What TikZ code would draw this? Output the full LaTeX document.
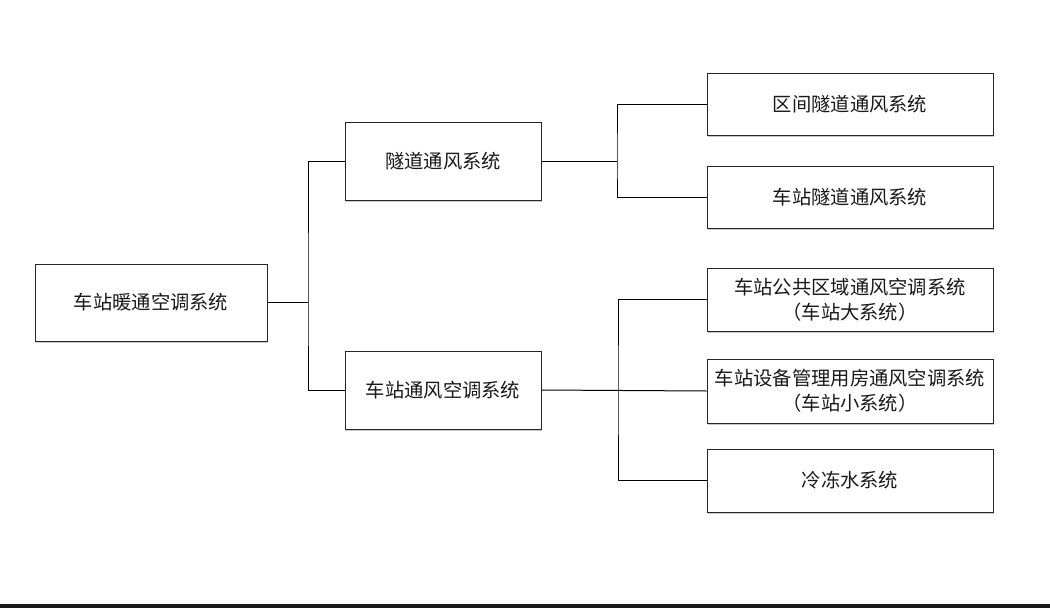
\documentclass[tikz,border=0pt]{standalone}
\usepackage{fontspec}
\setmainfont{Noto Sans CJK SC}
\usetikzlibrary{shadows}
\tikzset{
  box/.style={draw=black!85, line width=1pt, fill=white, rectangle, inner sep=0pt,
    align=center, text=black!90, font=\fontsize{19.3}{25}\selectfont,
    drop shadow={shadow xshift=1.3pt, shadow yshift=-1.8pt, opacity=0.35, fill=black!60}},
  conn/.style={draw=black, line width=1pt}
}
\begin{document}
\begin{tikzpicture}[x=1pt,y=-1pt]
\useasboundingbox (0,0) rectangle (1050,608);
\fill[white] (0,0) rectangle (1050,608);
\fill[black!90] (0,604) rectangle (1050,608);

\node[box, minimum width=232pt, minimum height=77pt] (root) at (151,302.5) {车站暖通空调系统};
\node[box, minimum width=196pt, minimum height=78pt] (mid1) at (443,161) {隧道通风系统};
\node[box, minimum width=196pt, minimum height=78pt] (mid2) at (443,390) {车站通风空调系统};
\node[box, minimum width=286pt, minimum height=62pt] (r1) at (850,104) {区间隧道通风系统};
\node[box, minimum width=286pt, minimum height=62pt] (r2) at (850,197) {车站隧道通风系统};
\node[box, minimum width=286pt, minimum height=63pt] (r3) at (850,299.5) {车站公共区域通风空调系统\\（车站大系统）};
\node[box, minimum width=286pt, minimum height=64pt] (r4) at (850,391) {车站设备管理用房通风空调系统\\（车站小系统）};
\node[box, minimum width=286pt, minimum height=63pt] (r5) at (850,480.5) {冷冻水系统};

\coordinate (j1) at (308,302.5);
\coordinate (j2) at (617,161);
\coordinate (j3) at (618,391);

\draw[conn] (root.east) -- (j1);
\draw[conn] (mid1.west) -| (j1) |- (mid2.west);
\draw[conn] (mid1.east) -- (j2);
\draw[conn] (r1.west) -| (j2) |- (r2.west);
\draw[conn] (mid2.east) -- (r4.west);
\draw[conn] (r3.west) -| (j3) |- (r5.west);
\end{tikzpicture}
\end{document}
